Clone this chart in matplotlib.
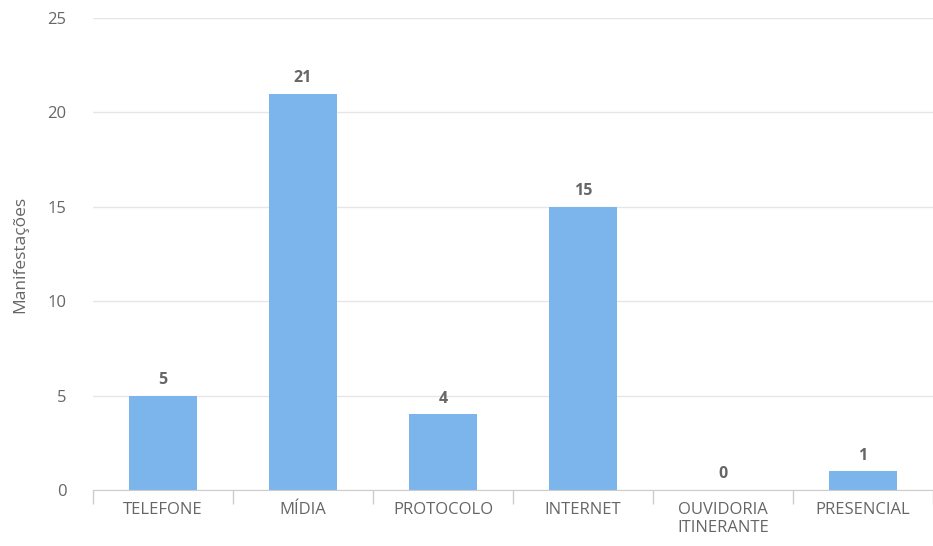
# Bar chart: manifestações por canal
from matplotlib import pyplot as plt
import numpy as np

categories = ["TELEFONE", "MÍDIA", "PROTOCOLO", "INTERNET", "OUVIDORIA\nITINERANTE", "PRESENCIAL"]
values = [5, 21, 4, 15, 0, 1]
y_ticks = [0, 5, 10, 15, 20, 25]

plt.rcParams['font.family'] = ['Open Sans', 'DejaVu Sans']

# create figure
fig = plt.figure(figsize=(9.33, 5.46), dpi=100)
ax = fig.add_axes([93 / 933, 1 - 490 / 546, 840 / 933, 472 / 546])

x = np.arange(len(categories))
ax.bar(x, values, width=0.48, color="#7cb5ec", zorder=3)

# data labels
for xi, v in zip(x, values):
    ax.text(xi, v + 0.4, str(v), ha="center", va="bottom",
            fontsize=11.5, fontweight="bold", color="#666666")

ax.set_xlim(-0.5, len(categories) - 0.5)
ax.set_ylim(0, 25)
ax.set_yticks(y_ticks)
ax.set_xticks(x)
ax.set_xticklabels(categories, fontsize=12, color="#666666", linespacing=1.15)
ax.tick_params(axis="x", length=0, pad=9)
ax.tick_params(axis="y", length=0, pad=19, labelsize=12, labelcolor="#666666")
for lbl in ax.get_yticklabels():
    lbl.set_horizontalalignment("right")

# category boundary ticks
ax.set_xticks(np.arange(-0.5, len(categories)), minor=True)
ax.tick_params(axis="x", which="minor", length=10, color="#cccccc", width=1)

# grid
ax.yaxis.grid(True, color="#e6e6e6", linewidth=1, zorder=0)
ax.set_axisbelow(True)
for side in ["top", "right", "left"]:
    ax.spines[side].set_visible(False)
ax.spines["bottom"].set_color("#cccccc")
ax.spines["bottom"].set_zorder(4)

# set labels
ax.set_ylabel("Manifestações", fontsize=12.5, color="#666666", labelpad=14)

# save figure
fig.savefig("out.png", dpi=100)
